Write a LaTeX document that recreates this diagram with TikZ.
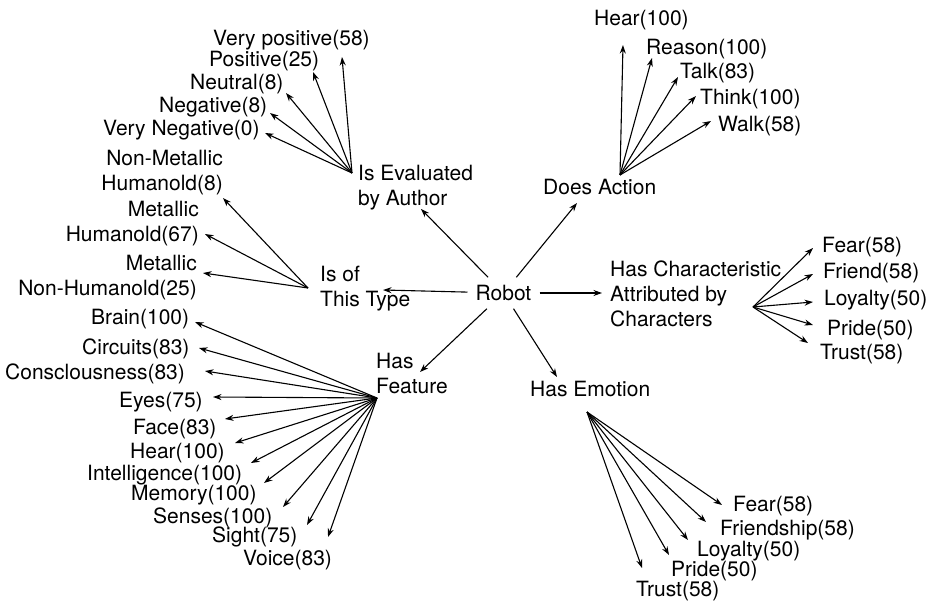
\documentclass[tikz,border=0pt]{standalone}
\usepackage{fontspec}
\setmainfont{TeX Gyre Heros}
\usetikzlibrary{arrows.meta}
\begin{document}
\begin{tikzpicture}[x=1pt,y=-1pt,
  font=\fontsize{21}{25}\selectfont,
  lbl/.style={inner sep=0pt, text height=15pt, text depth=0pt, anchor=west},
  multil/.style={inner sep=0pt, align=left, anchor=north west},
  multir/.style={inner sep=0pt, align=right, anchor=north east},
  arr/.style={line width=1.1pt, -{Stealth[length=8.5pt,width=6pt]}}]
\useasboundingbox (0,0) rectangle (930,602);

% central concept
\node[inner xsep=8pt, inner ysep=8pt, text height=15pt, text depth=0pt] (robot) at (503.5,293) {Robot};

% relation nodes
\node[multil] (eval) at (358,164.5) {Is Evaluated\\by Author};
\node[lbl] (does) at (543,187) {Does Action};
\node[multil] (type) at (320,265.5) {Is of\\This Type};
\node[multil] (char) at (610,260.5) {Has Characteristic\\Attributed by\\Characters};
\node[multil] (feat) at (376,352.5) {Has\\Feature};
\node[lbl] (emo) at (530,389) {Has Emotion};

% hubs where the fans of arrows start
\coordinate (evh) at (352,173);
\coordinate (acth) at (620,175);
\coordinate (typh) at (308,288);
\coordinate (chah) at (753,307);
\coordinate (feah) at (377,398);
\coordinate (emoh) at (587,412);

% arrow ends from the central concept
\coordinate (r-eval) at (421,209);
\coordinate (r-does) at (577,203);
\coordinate (r-type) at (383,290);
\coordinate (r-char) at (602,293);
\coordinate (r-feat) at (420,372);
\coordinate (r-emo) at (557,377);
\foreach \t in {r-eval,r-does,r-type,r-char,r-feat,r-emo}
  \draw[arr] (robot) -- (\t);

% evaluation by author
\node[lbl] (vpos) at (213,38) {Very positive(58)};
\node[lbl] (pos) at (209,59) {Positive(25)};
\node[lbl] (neu) at (190,82) {Neutral(8)};
\node[lbl] (neg) at (159,105) {Negative(8)};
\node[lbl] (vneg) at (103,128) {Very Negative(0)};
\coordinate (e1) at (342,57);
\coordinate (e2) at (313,72);
\coordinate (e3) at (286,93);
\coordinate (e4) at (270,113);
\coordinate (e5) at (265,133);
\foreach \t in {e1,e2,e3,e4,e5}
  \draw[arr] (evh) -- (\t);

% actions
\node[lbl] (ahear) at (594,18) {Hear(100)};
\node[lbl] (reason) at (646,47) {Reason(100)};
\node[lbl] (talk) at (680,71) {Talk(83)};
\node[lbl] (think) at (700,97) {Think(100)};
\node[lbl] (walk) at (718,124) {Walk(58)};
\coordinate (a1) at (623,45);
\coordinate (a2) at (652,58);
\coordinate (a3) at (678,77);
\coordinate (a4) at (696,96);
\coordinate (a5) at (711,121);
\foreach \t in {a1,a2,a3,a4,a5}
  \draw[arr] (acth) -- (\t);

% robot types
\node[multir] (nmh) at (223,149.5) {Non-Metallic\\Humanold(8)};
\node[multir] (mh) at (199,200.5) {Metallic\\Humanold(67)};
\node[multir] (mnh) at (197,254.5) {Metallic\\Non-Humanold(25)};
\coordinate (y1) at (223,198);
\coordinate (y2) at (205,234);
\coordinate (y3) at (203,273);
\foreach \t in {y1,y2,y3}
  \draw[arr] (typh) -- (\t);

% characteristics attributed by characters
\node[lbl] (cfear) at (822,245) {Fear(58)};
\node[lbl] (cfriend) at (823,271) {Friend(58)};
\node[lbl] (cloyal) at (824,298) {Loyalty(50)};
\node[lbl] (cpride) at (827,328) {Pride(50)};
\node[lbl] (ctrust) at (820,352) {Trust(58)};
\coordinate (c1) at (813,248);
\coordinate (c2) at (813,274);
\coordinate (c3) at (813,302);
\coordinate (c4) at (813,325);
\coordinate (c5) at (808,343);
\foreach \t in {c1,c2,c3,c4,c5}
  \draw[arr] (chah) -- (\t);

% features
\node[lbl] (brain) at (91,317) {Brain(100)};
\node[lbl] (circ) at (82,347) {Circuits(83)};
\node[lbl] (consc) at (5,372) {Consclousness(83)};
\node[lbl] (eyes) at (119,400) {Eyes(75)};
\node[lbl] (face) at (133,427) {Face(83)};
\node[lbl] (fhear) at (130,451) {Hear(100)};
\node[lbl] (intel) at (87,473) {Intelligence(100)};
\node[lbl] (mem) at (131,493) {Memory(100)};
\node[lbl] (sens) at (153,516) {Senses(100)};
\node[lbl] (sight) at (212,535) {Sight(75)};
\node[lbl] (voice) at (243,558) {Voice(83)};
\coordinate (f1) at (195,322);
\coordinate (f2) at (199,348);
\coordinate (f3) at (205,371);
\coordinate (f4) at (213,397);
\coordinate (f5) at (225,419);
\coordinate (f6) at (235,443);
\coordinate (f7) at (251,463);
\coordinate (f8) at (264,483);
\coordinate (f9) at (283,507);
\coordinate (f10) at (307,525);
\coordinate (f11) at (328,537);
\foreach \t in {f1,f2,f3,f4,f5,f6,f7,f8,f9,f10,f11}
  \draw[arr] (feah) -- (\t);

% emotions
\node[lbl] (efear) at (733,504) {Fear(58)};
\node[lbl] (efriend) at (720,528) {Friendship(58)};
\node[lbl] (eloyal) at (697,549) {Loyalty(50)};
\node[lbl] (epride) at (671,569) {Pride(50)};
\node[lbl] (etrust) at (636,589) {Trust(58)};
\coordinate (m1) at (722,505);
\coordinate (m2) at (706,522);
\coordinate (m3) at (688,540);
\coordinate (m4) at (669,555);
\coordinate (m5) at (642,568);
\foreach \t in {m1,m2,m3,m4,m5}
  \draw[arr] (emoh) -- (\t);
\end{tikzpicture}
\end{document}
